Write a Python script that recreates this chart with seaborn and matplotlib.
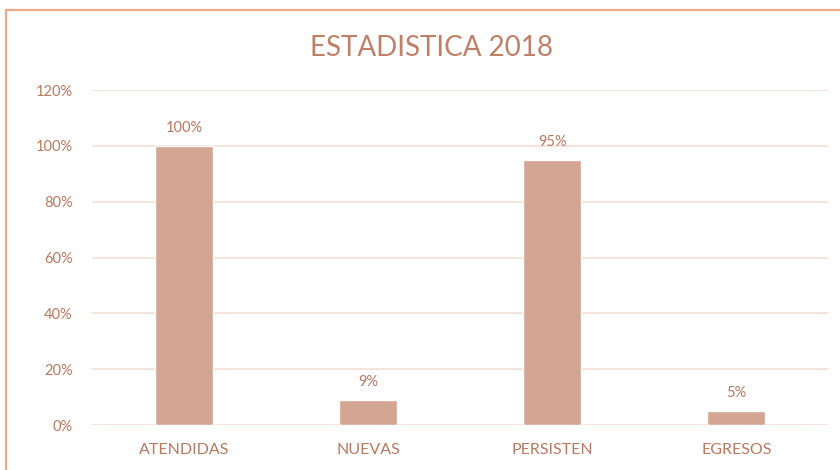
import matplotlib
matplotlib.use("Agg")
import matplotlib.pyplot as plt
import seaborn as sns
import pandas as pd
from matplotlib.patches import Rectangle

categories = ["ATENDIDAS", "NUEVAS", "PERSISTEN", "EGRESOS"]
values = [100, 9, 95, 5]
y_ticks = [0, 20, 40, 60, 80, 100, 120]
title = "ESTADISTICA 2018"

df = pd.DataFrame({"cat": categories, "val": values})

sns.set_theme(style="white")
plt.rcParams["font.family"] = ["Lato", "DejaVu Sans"]

text_c = "#B9785F"
bar_c = "#D3A593"
grid_c = "#F3DED6"
border_c = "#F0A985"

fig = plt.figure(figsize=(8.4, 4.7), dpi=100)
ax = fig.add_axes([0.1095, 0.0957, 0.8765, 0.7128])
sns.barplot(data=df, x="cat", y="val", color=bar_c, width=0.315, ax=ax,
            saturation=1, zorder=3)
ax.set_ylim(0, 120)
ax.set_xlim(-0.5, 3.5)
ax.set_yticks(y_ticks)
ax.set_yticklabels([f"{t}%" for t in y_ticks])
ax.set_xlabel("")
ax.set_ylabel("")
for s in ax.spines.values():
    s.set_visible(False)
ax.grid(axis="y", color=grid_c, linewidth=1.2, zorder=0)
ax.set_axisbelow(True)
ax.tick_params(axis="both", colors=text_c, length=0)
ax.tick_params(axis="y", pad=14, labelsize=10.5)
ax.tick_params(axis="x", pad=13, labelsize=11.5)
for c in ax.containers:
    ax.bar_label(c, labels=[f"{v}%" for v in values], padding=8,
                 color=text_c, fontsize=10.5)
fig.text(0.514, 0.897, title, ha="center", va="center", fontsize=20,
         color="#C08068")
fig.patches.append(Rectangle((6 / 840, -0.1), 1.2, (470 - 10) / 470 + 0.1,
                             transform=fig.transFigure, fill=False,
                             edgecolor=border_c, linewidth=1.6))
fig.savefig("out.png", dpi=100)
